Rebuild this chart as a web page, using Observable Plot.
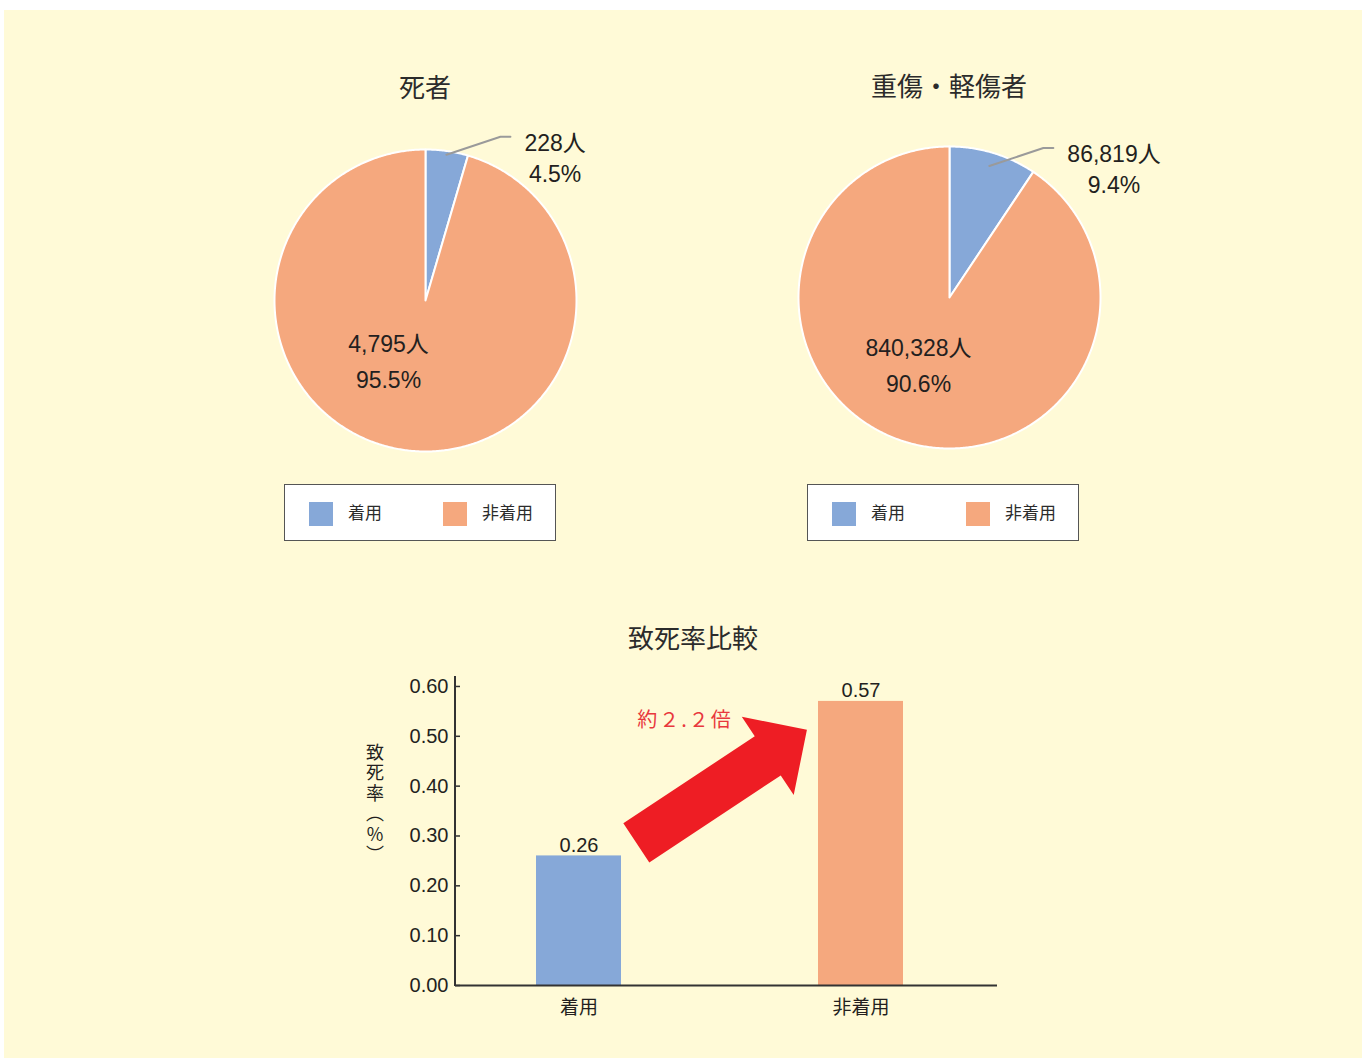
<!DOCTYPE html>
<html>
<head>
<meta charset="utf-8">
<script src="https://cdn.jsdelivr.net/npm/d3@7"></script>
<script src="https://cdn.jsdelivr.net/npm/@observablehq/plot@0.6"></script>
<style>
  html, body { margin: 0; padding: 0; background: #ffffff; }
  body { position: relative; width: 1366px; height: 1058px; overflow: hidden;
         font-family: "Liberation Sans", "Noto Sans CJK JP", sans-serif; color: #231f20; }
  #panel { position: absolute; left: 4px; top: 10px; width: 1358px; height: 1048px; background: #fffad7; }
  .abs { position: absolute; }
  .title { position: absolute; width: 400px; text-align: center; font-family: "Noto Sans CJK JP", sans-serif;
           font-size: 26px; line-height: 30px; font-weight: 400; color: #2b2b2b; }
  .legend { position: absolute; width: 270px; height: 55px; background: #ffffff; border: 1px solid #555; }
  .legend .sw { position: absolute; top: 17px; width: 24px; height: 24px; }
  .legend .lb { position: absolute; top: 13px; font-family: "Noto Sans CJK JP", sans-serif; font-size: 17px; line-height: 28px; color: #2b2b2b; }
  .ylabel { position: absolute; writing-mode: vertical-rl; text-orientation: upright; font-family: "Noto Sans CJK JP", sans-serif;
            font-size: 18px; line-height: 20px; letter-spacing: 2.5px; color: #231f20; }
  svg.plot { background: none !important; overflow: visible; }
</style>
</head>
<body>
<div id="panel"></div>
<div id="root"></div>
<script>
// ---------------- data ----------------
const seriesNames = ["着用", "非着用"];
const pieTitles = ["死者", "重傷・軽傷者"];
const pieCounts = [[228, 4795], [86819, 840328]];
const piePercents = [[4.5, 95.5], [9.4, 90.6]];
const chartTitle = "致死率比較";
const barCategories = ["着用", "非着用"];
const barRates = [0.26, 0.57];
const yTicks = [0, 0.1, 0.2, 0.3, 0.4, 0.5, 0.6];
const yLabel = "致死率（%）";
const ratioLabel = "約２.２倍";

// ---------------- styles / layout ----------------
const seriesColors = ["#86a8d8", "#f5a87e"];
const textColor = "#231f20";
const fontStack = '"Liberation Sans", "Noto Sans CJK JP", sans-serif';
const root = document.getElementById("root");

const pieLayout = [
  {cx: 425, cy: 300, titleY: 86, legendLeft: 284, leaderR: 0.975, innerAngle: 212.5, innerR: 0.456},
  {cx: 949, cy: 297, titleY: 85, legendLeft: 807, leaderR: 0.91, innerAngle: 205.5, innerR: 0.477}
];
const R = 151;            // px per unit radius
const PW = 500, PH = 400; // pie svg size
const PCX = 250, PCY = 240; // pie center inside svg
const LABEL_SIZE = 23;

const canvas = document.createElement("canvas");
const ctx = canvas.getContext("2d");
function textWidth(s, size) { ctx.font = `${size}px ${fontStack}`; return ctx.measureText(s).width; }

function piePlot(i) {
  const L = pieLayout[i];
  const counts = pieCounts[i];
  const total = d3.sum(counts);
  let acc = 0;
  const slices = counts.map((c, j) => {
    const a0 = acc / total * 2 * Math.PI; acc += c;
    const a1 = acc / total * 2 * Math.PI;
    return {j, a0, a1, count: c, pct: piePercents[i][j]};
  });
  const pts = [];
  for (const s of slices) {
    pts.push({j: s.j, x: 0, y: 0});
    const n = Math.max(2, Math.ceil((s.a1 - s.a0) / (Math.PI / 360)));
    for (let k = 0; k <= n; k++) {
      const a = s.a0 + (s.a1 - s.a0) * k / n;
      pts.push({j: s.j, x: Math.sin(a), y: Math.cos(a)});
    }
    pts.push({j: s.j, x: 0, y: 0});
  }
  const s0 = slices[0];
  const mid = (s0.a0 + s0.a1) / 2;
  const start = {x: L.leaderR * Math.sin(mid), y: L.leaderR * Math.cos(mid)};
  const elbow = {x: start.x + 54 / R, y: start.y + 18 / R};
  const end = {x: elbow.x + 10 / R, y: elbow.y};
  const line1 = `${d3.format(",")(s0.count)}人`;
  const outerText = `${line1}\n${d3.format(".1f")(s0.pct)}%`;
  const w0 = textWidth(line1, LABEL_SIZE);
  const outer = {x: end.x + (14 + w0 / 2) / R, y: end.y - 19.5 / R, text: outerText};
  const s1 = slices[1];
  const ia = L.innerAngle * Math.PI / 180;
  const inner = {x: L.innerR * Math.sin(ia), y: L.innerR * Math.cos(ia),
                 text: `${d3.format(",")(s1.count)}人\n${d3.format(".1f")(s1.pct)}%`};

  return Plot.plot({
    width: PW, height: PH, margin: 0,
    x: {domain: [-PCX / R, (PW - PCX) / R], axis: null},
    y: {domain: [-(PH - PCY) / R, PCY / R], axis: null},
    style: {background: "none", overflow: "visible", fontFamily: fontStack, color: textColor},
    marks: [
      Plot.line(pts, {x: "x", y: "y", z: "j", fill: d => seriesColors[d.j], stroke: "#ffffff", strokeWidth: 2, strokeLinejoin: "round"}),
      Plot.line([start, elbow, end], {x: "x", y: "y", stroke: "#9a9a9a", strokeWidth: 2}),
      Plot.text([outer], {x: "x", y: "y", text: "text", fontSize: LABEL_SIZE, lineHeight: 31 / LABEL_SIZE, textAnchor: "middle", lineAnchor: "middle", fill: textColor}),
      Plot.text([inner], {x: "x", y: "y", text: "text", fontSize: LABEL_SIZE, lineHeight: 36 / LABEL_SIZE, textAnchor: "middle", lineAnchor: "middle", fill: textColor})
    ]
  });
}

pieLayout.forEach((L, i) => {
  const t = document.createElement("div");
  t.className = "title";
  t.textContent = pieTitles[i];
  t.style.left = (L.cx - 200) + "px";
  t.style.top = (L.titleY - 15) + "px";
  root.appendChild(t);

  const p = piePlot(i);
  const wrap = document.createElement("div");
  wrap.className = "abs";
  wrap.style.left = (L.cx - PCX) + "px";
  wrap.style.top = (L.cy - PCY) + "px";
  wrap.appendChild(p);
  root.appendChild(wrap);

  const lg = document.createElement("div");
  lg.className = "legend";
  lg.style.left = L.legendLeft + "px";
  lg.style.top = "484px";
  seriesNames.forEach((nm, j) => {
    const sw = document.createElement("div");
    sw.className = "sw";
    sw.style.left = (24 + j * 134) + "px";
    sw.style.background = seriesColors[j];
    lg.appendChild(sw);
    const lb = document.createElement("div");
    lb.className = "lb";
    lb.style.left = (63 + j * 134) + "px";
    lb.textContent = nm;
    lg.appendChild(lb);
  });
  root.appendChild(lg);
});

// ---------------- bar chart ----------------
const ct = document.createElement("div");
ct.className = "title";
ct.textContent = chartTitle;
ct.style.left = (693 - 200) + "px";
ct.style.top = (637 - 15) + "px";
root.appendChild(ct);

const yl = document.createElement("div");
yl.className = "ylabel";
yl.textContent = yLabel;
yl.style.left = "365px";
yl.style.top = "743px";
root.appendChild(yl);

const barData = barCategories.map((c, i) => ({cat: c, rate: barRates[i], color: seriesColors[i]}));
const BW = 700, BH = 430, mL = 125, mR = 33, mT = 76, mB = 45;
const frameW = BW - mL - mR;
const arrowSpec = {fromT: 0.205, fromV: 0.285, toT: 0.81, toV: 0.512, shaftHalf: 23.5, headLen: 47, headHalf: 47};

function arrowAndAxis(index, scales, values, dims) {
  const g = d3.create("svg:g");
  g.append("line")
    .attr("x1", dims.marginLeft).attr("x2", dims.marginLeft)
    .attr("y1", dims.marginTop).attr("y2", dims.height - dims.marginBottom + 1)
    .attr("stroke", "#333").attr("stroke-width", 2);
  const x = scales.x, y = scales.y;
  const bw = x.bandwidth ? x.bandwidth() : 0;
  const c0 = x(barCategories[0]) + bw / 2, c1 = x(barCategories[1]) + bw / 2;
  const T = [c0 + (c1 - c0) * arrowSpec.fromT, y(arrowSpec.fromV)];
  const P = [c0 + (c1 - c0) * arrowSpec.toT, y(arrowSpec.toV)];
  const dx = P[0] - T[0], dy = P[1] - T[1], L = Math.hypot(dx, dy);
  const u = [dx / L, dy / L], n = [-u[1], u[0]];
  const at = (d, w) => [T[0] + u[0] * d + n[0] * w, T[1] + u[1] * d + n[1] * w];
  const b = L - arrowSpec.headLen;
  const poly = [at(0, arrowSpec.shaftHalf), at(b, arrowSpec.shaftHalf), at(b, arrowSpec.headHalf), P,
                at(b, -arrowSpec.headHalf), at(b, -arrowSpec.shaftHalf), at(0, -arrowSpec.shaftHalf)];
  g.append("polygon").attr("points", poly.map(p => p.join(",")).join(" ")).attr("fill", "#ee1d24");
  return g.node();
}

const bar = Plot.plot({
  width: BW, height: BH, marginLeft: mL, marginRight: mR, marginTop: mT, marginBottom: mB,
  x: {domain: barCategories, paddingInner: 0.7, paddingOuter: 0.31, align: 0.46, label: null},
  y: {domain: [0, 0.62], label: null},
  style: {background: "none", overflow: "visible", fontFamily: fontStack, color: textColor},
  marks: [
    Plot.barY(barData, {x: "cat", y: "rate", fill: "color"}),
    Plot.ruleY([0], {stroke: "#333", strokeWidth: 2}),
    Plot.tickY(yTicks, {y: d => d, stroke: "#333", strokeWidth: 1.5, insetRight: frameW - 5}),
    Plot.axisY({ticks: yTicks, tickSize: 0, tickPadding: 7, tickFormat: d3.format(".2f"), fontSize: 20, fill: textColor}),
    Plot.axisX({tickSize: 0, tickPadding: 15, fontSize: 19, fill: textColor, fontFamily: '"Noto Sans CJK JP", sans-serif'}),
    Plot.text(barData, {x: "cat", y: "rate", text: d => d3.format(".2f")(d.rate), lineAnchor: "bottom", dy: -4, fontSize: 20, fill: textColor}),
    Plot.text([ratioLabel], {x: () => barCategories[0], y: () => 0.532, dx: 106, text: d => d, fontSize: 20, fill: "#e8383d", fontFamily: '"Noto Sans CJK JP", sans-serif'}),
    arrowAndAxis
  ]
});
d3.select(bar).selectAll("text").filter(function() { return this.textContent === ratioLabel; })
  .style("letter-spacing", "2px");
const bw = document.createElement("div");
bw.className = "abs";
bw.style.left = "330px";
bw.style.top = "600px";
bw.appendChild(bar);
root.appendChild(bw);
</script>
</body>
</html>
